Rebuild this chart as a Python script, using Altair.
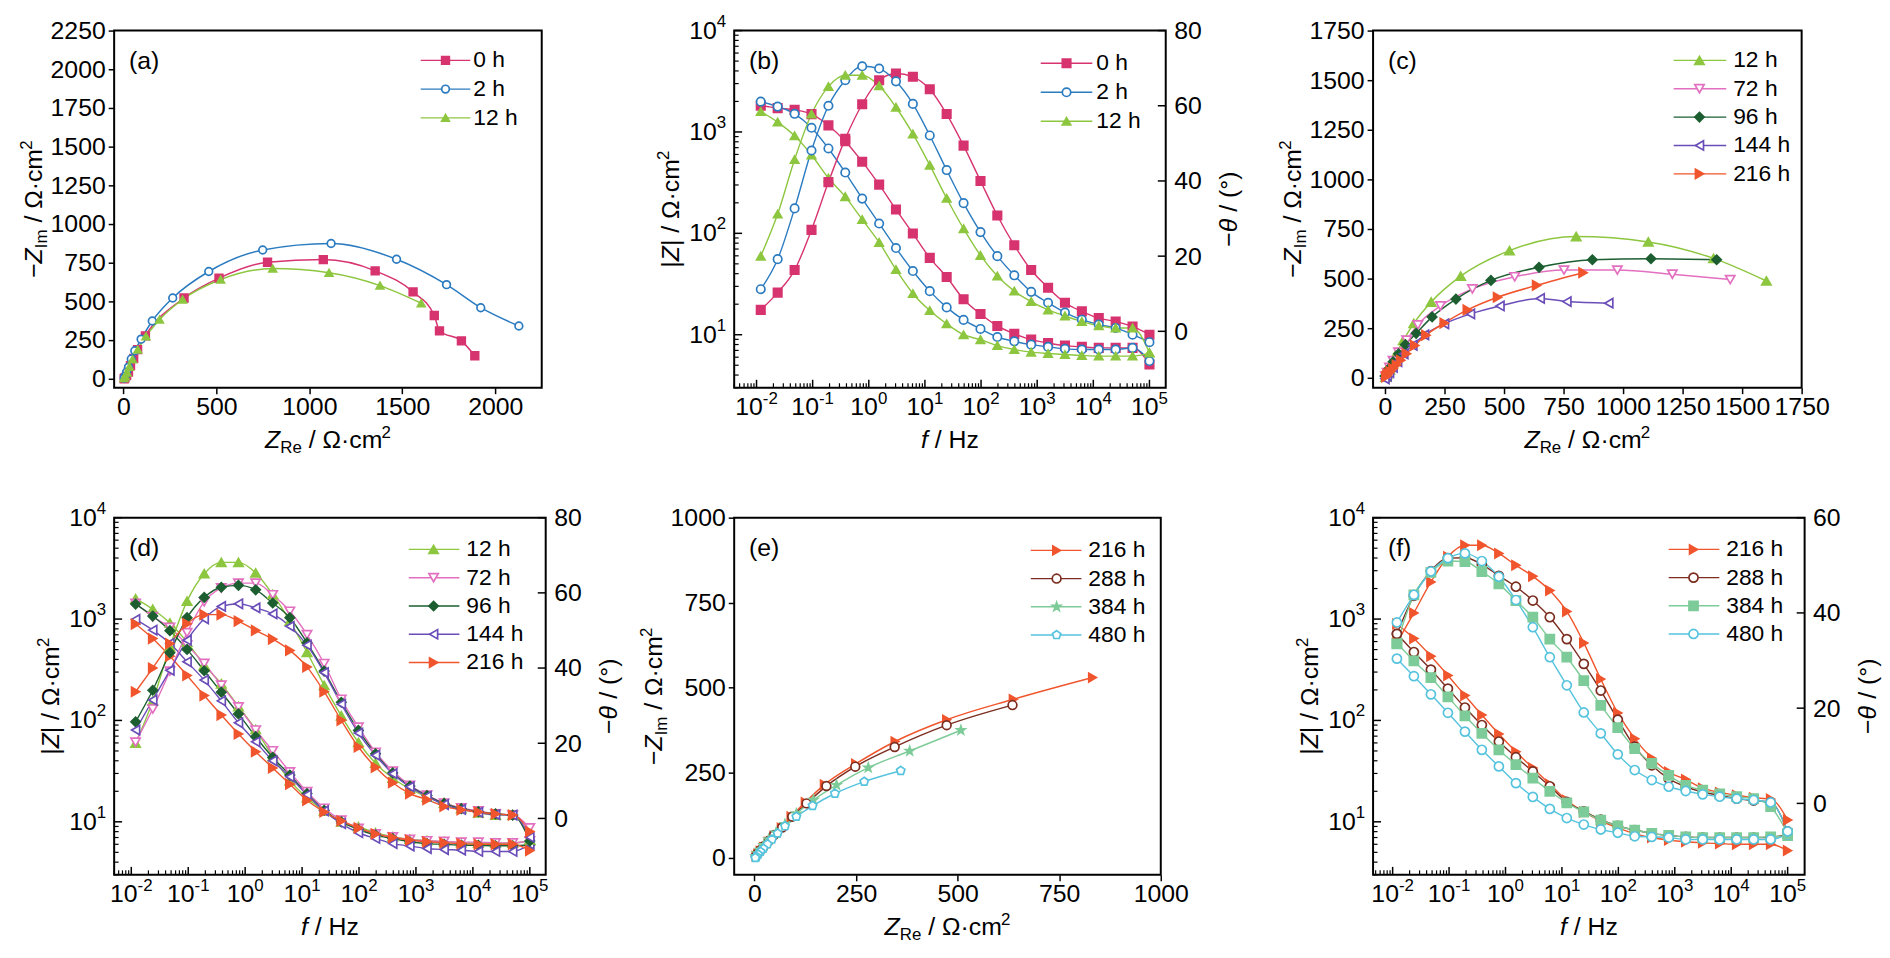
import altair as alt
import pandas as pd

FONT = "Liberation Sans"

# ---------------- data ----------------
FREQ = [0.0119, 0.0238, 0.0477, 0.0954, 0.191, 0.381, 0.763, 1.53, 3.05, 6.10,
        12.2, 24.4, 48.8, 97.7, 195.0, 391.0, 781.0, 1563.0, 3125.0, 6250.0,
        12500.0, 25000.0, 50000.0, 100000.0]

# Bode (b)
MAG_0H = [1820, 1720, 1650, 1500, 1160, 811, 509, 302, 172, 99.5, 57.3, 37.1, 22.4, 16.0,
          12.2, 10.2, 8.94, 8.29, 7.81, 7.58, 7.41, 7.41, 7.41, 5.09]
PH_0H = [5.7, 10.3, 16.3, 27.0, 39.7, 51.2, 60.4, 66.8, 68.6, 67.7, 64.4, 57.8, 49.4, 40.0,
         30.8, 22.9, 16.3, 11.6, 7.6, 5.3, 3.5, 2.6, 1.3, -0.9]
MAG_2H = [1990, 1780, 1510, 1100, 687, 398, 220, 125, 71.6, 42.5, 26.9, 18.6, 14.0, 11.4,
          9.49, 8.61, 7.98, 7.58, 7.25, 7.14, 7.14, 7.14, 7.41, 5.50]
PH_2H = [11.2, 19.2, 32.7, 48.1, 60.0, 66.8, 70.5, 69.9, 66.5, 60.5, 52.1, 42.9, 34.1, 26.4,
         20.0, 14.9, 10.5, 7.6, 5.0, 3.1, 1.8, 0.9, -0.9, -2.9]
MAG_12H = [1590, 1250, 915, 592, 351, 230, 137, 81.4, 44.0, 25.5, 17.3, 12.8, 10.0, 8.94,
           7.81, 7.14, 6.73, 6.53, 6.38, 6.24, 6.15, 6.15, 6.15, 6.62]
PH_12H = [20.0, 31.2, 45.7, 57.8, 65.1, 68.1, 68.1, 65.3, 59.6, 52.5, 44.2, 35.4, 27.3, 20.2,
          14.7, 10.7, 7.9, 5.7, 4.1, 2.6, 1.5, 0.9, 0.9, -5.7]
# Bode (d)
MAG_72H = [1430, 1054, 828, 553, 365, 223, 136, 80.4, 50.2, 31.1, 19.8, 13.6, 10.4, 8.6,
           7.6, 7.1, 6.7, 6.5, 6.4, 6.3, 6.3, 6.2, 6.2, 6.5]
PH_72H = [20.3, 29.1, 39.2, 49.4, 57.6, 61.3, 62.6, 62.6, 59.5, 55.1, 48.9, 41.2, 31.7, 24.3,
          17.6, 12.6, 8.8, 6.2, 4.1, 2.8, 2.0, 1.2, 0.9, -2.5]
MAG_96H = [1406, 1071, 768, 502, 309, 190, 116, 69.1, 43.2, 28.9, 19.0, 13.0, 10.0, 8.4,
           7.4, 6.85, 6.36, 6.1, 6.0, 5.9, 5.85, 5.8, 5.8, 5.9]
PH_96H = [25.7, 34.1, 44.1, 53.4, 58.8, 61.5, 62.0, 60.8, 57.3, 53.4, 46.7, 39.2, 30.9, 23.4,
          17.2, 12.1, 8.6, 6.1, 4.0, 2.6, 1.8, 1.2, 0.9, -6.0]
MAG_144H = [993, 778, 576, 379, 250, 156, 94.8, 61.6, 40.0, 27.8, 18.5, 12.8, 9.6, 7.8,
            6.85, 6.1, 5.76, 5.45, 5.33, 5.25, 5.1, 5.1, 5.1, 6.0]
PH_144H = [23.5, 31.5, 39.4, 47.4, 53.1, 56.4, 57.1, 56.0, 54.4, 51.1, 46.1, 38.8, 30.4, 22.7,
           16.8, 11.9, 8.4, 5.9, 3.7, 2.4, 1.6, 1.0, 0.9, -5.0]
MAG_216H = [893, 642, 430, 278, 176, 113, 73.5, 49.2, 34.0, 23.5, 16.3, 12.5, 10.2, 8.7,
            7.6, 7.0, 6.6, 6.35, 6.2, 6.1, 6.0, 6.0, 6.0, 5.2]
PH_216H = [33.7, 40.0, 46.5, 51.8, 54.2, 54.2, 52.5, 50.0, 47.7, 44.7, 40.3, 33.7, 26.1, 19.0,
           13.6, 9.5, 6.6, 5.0, 3.2, 2.3, 1.7, 1.2, 0.9, -3.5]
# Bode (f)
MAG_288H = [716, 473, 317, 206, 134, 90.1, 61.9, 43.4, 31.4, 22.4, 15.7, 12.7, 10.5, 9.1,
            8.3, 7.7, 7.35, 7.1, 7.0, 7.0, 7.0, 7.0, 7.0, 7.6]
PH_288H = [35.6, 43.6, 48.8, 51.5, 51.6, 50.2, 47.8, 45.5, 42.6, 39.1, 34.5, 29.3, 23.7, 17.6,
           11.9, 8.0, 5.2, 3.5, 2.4, 1.7, 1.0, 0.6, 0.2, -5.9]
MAG_384H = [580, 386, 265, 171, 111, 74.6, 51.3, 36.6, 27.0, 20.0, 15.4, 12.5, 10.4, 9.1,
            8.3, 7.7, 7.35, 7.1, 7.0, 7.0, 7.0, 7.0, 7.1, 7.3]
PH_384H = [33.5, 43.8, 48.5, 50.9, 50.8, 48.7, 46.1, 42.6, 39.1, 34.5, 30.7, 25.8, 20.6, 15.9,
           11.5, 8.4, 5.9, 3.8, 2.8, 2.0, 1.4, 1.0, -0.7, -6.3]
MAG_480H = [407, 273, 181, 119, 77.6, 51.3, 35.2, 24.1, 17.6, 13.4, 10.9, 9.4, 8.4, 7.8,
            7.2, 7.1, 7.0, 6.7, 6.7, 6.7, 6.7, 6.7, 6.7, 7.5]
PH_480H = [38.0, 43.8, 48.7, 51.5, 52.5, 50.9, 47.6, 42.7, 37.0, 30.7, 24.8, 19.1, 14.7, 10.3,
           7.0, 4.9, 3.5, 2.6, 1.9, 1.4, 1.0, 0.7, 0.2, -5.9]

# Nyquist (a)
A_0H_X = [1890, 1818, 1700, 1672, 1558, 1354, 1075, 775, 514, 326, 118, 76, 55, 38, 27, 17, 8, 4]
A_0H_Y = [149, 245, 309, 409, 561, 697, 770, 753, 650, 522, 277, 188, 132, 85, 43, 21, 6, 0]
A_2H_X = [2127, 1922, 1738, 1469, 1117, 749, 459, 265, 155, 95, 61, 42, 27, 17, 9, 4]
A_2H_Y = [341, 459, 608, 772, 874, 832, 693, 522, 373, 256, 181, 128, 75, 43, 17, 4]
N_12H_X = [1602, 1380, 1106, 803, 523, 318, 194, 121, 77, 49, 32, 20, 9, 3]
N_12H_Y = [488, 602, 685, 712, 641, 512, 382, 274, 188, 125, 77, 40, 17, 4]
# Nyquist (c)
C_72H_X = [1450, 1207, 976, 752, 545, 367, 233, 138, 91, 57, 34, 19, 9, 2]
C_72H_Y = [495, 522, 543, 543, 509, 448, 362, 267, 190, 129, 86, 52, 26, 9]
C_96H_X = [1393, 1117, 871, 647, 445, 298, 198, 131, 86, 57, 34, 17, 7, 0]
C_96H_Y = [595, 600, 595, 557, 491, 397, 307, 224, 167, 121, 81, 47, 22, 9]
C_144H_X = [940, 764, 652, 483, 359, 250, 166, 117, 79, 53, 34, 19, 9, 0]
C_144H_Y = [376, 384, 400, 362, 322, 272, 216, 164, 121, 81, 52, 26, 9, -5]
N_216H_X = [832, 637, 473, 346, 249, 172, 125, 90, 66, 48, 34, 22, 14, 8, 4]
N_216H_Y = [530, 466, 406, 342, 276, 215, 163, 121, 88, 64, 46, 31, 20, 11, 5]
# Nyquist (e)
E_288H_X = [635, 473, 345, 248, 177, 128, 93, 68, 48, 35, 23, 15, 8, 3]
E_288H_Y = [449, 390, 326, 268, 211, 160, 121, 89, 67, 50, 34, 23, 13, 5]
E_384H_X = [508, 382, 280, 202, 145, 103, 75, 53, 35, 23, 13, 7, 3]
E_384H_Y = [375, 314, 265, 214, 170, 130, 99, 74, 54, 37, 23, 13, 5]
E_480H_X = [360, 270, 198, 143, 103, 75, 57, 43, 32, 22, 15, 9, 5, 2]
E_480H_Y = [256, 224, 189, 153, 121, 93, 72, 54, 40, 27, 18, 10, 3, 0]

X_EXP = ["-2", "-1", "0", "1", "2", "3", "4", "5"]
X_DEC = [0.01, 0.1, 1.0, 10.0, 100.0, 1000.0, 10000.0, 100000.0]
Y_EXP = ["1", "2", "3", "4"]
Y_DEC = [10.0, 100.0, 1000.0, 10000.0]

# ---------------- styles ----------------
COLORS = {"0 h": "#D6336F", "2 h": "#2B7BC0", "12 h": "#8DC63F", "72 h": "#E36FC0",
          "96 h": "#1D5E31", "144 h": "#6A4DB8", "216 h": "#F0552D", "288 h": "#7B2D1F",
          "384 h": "#7DCB98", "480 h": "#55C3DD"}
STAR = ("M0,-1L0.235,-0.324L0.951,-0.309L0.38,0.124L0.588,0.809L0,0.4L-0.588,0.809"
        "L-0.38,0.124L-0.951,-0.309L-0.235,-0.324Z")
PENTA = "M0,-1L0.951,-0.309L0.588,0.809L-0.588,0.809L-0.951,-0.309Z"
SHAPES = {"0 h": "square", "2 h": "circle", "12 h": "triangle-up", "72 h": "triangle-down",
          "96 h": "diamond", "144 h": "triangle-left", "216 h": "triangle-right",
          "288 h": "circle", "384 h": "square", "480 h": "circle"}
HOLLOW = {"2 h", "72 h", "144 h", "288 h", "480 h"}

LAB = 25      # tick label font size
SUP = 17      # exponent font size
TIT = 25      # title font size
LEG = 23      # legend font size

ONE = pd.DataFrame({"k": [0]})

W_EM = {' ': 0.278, '/': 0.278, 'Ω': 0.768, '·': 0.278, 'c': 0.5, 'm': 0.833, 'e': 0.556,
        'R': 0.722, 'I': 0.278, 'Z': 0.611, '|': 0.26, 'f': 0.278, 'H': 0.722, 'z': 0.5,
        '−': 0.584, 'θ': 0.556, '(': 0.333, ')': 0.333, '°': 0.4, 'h': 0.556, '-': 0.333}


def tw(s, size):
    return sum(W_EM.get(ch, 0.556) for ch in s) * size


def txt(text, x, y, size=TIT, italic=False, align="left", baseline="alphabetic",
        dx=0.0, dy=0.0, angle=0):
    props = dict(text=text, font=FONT, fontSize=size, color="black", align=align,
                 baseline=baseline)
    if italic:
        props["fontStyle"] = "italic"
    if dx:
        props["dx"] = dx
    if dy:
        props["dy"] = dy
    if angle:
        props["angle"] = angle
    return alt.Chart(ONE).mark_text(**props).encode(x=alt.value(x), y=alt.value(y))


def title(pieces, x, y, angle=0):
    total = sum(tw(t, s) for t, s, _, _ in pieces)
    pos = -total / 2.0
    out = []
    for t, s, it, dy in pieces:
        lead = len(t) - len(t.lstrip(' '))
        out.append(txt(t.strip(' '), x, y, size=s, italic=it,
                       dx=pos + tw(' ' * lead, s) + 0.001, dy=dy, angle=angle))
        pos += tw(t, s)
    return out


T_ZRE = [("Z", TIT, True, 0), ("Re", 17, False, 5), (" / Ω·cm", TIT, False, 0), ("2", 17, False, -10)]
T_ZIM = [("−", TIT, False, 0), ("Z", TIT, True, 0), ("Im", 17, False, 5),
         (" / Ω·cm", TIT, False, 0), ("2", 17, False, -10)]
T_ZMOD = [("|", TIT, False, 0), ("Z", TIT, True, 0), ("| / Ω·cm", TIT, False, 0), ("2", 17, False, -10)]
T_F = [("f", TIT, True, 0), (" / Hz", TIT, False, 0)]
T_TH = [("−", TIT, False, 0), ("θ", TIT, True, 0), (" / (°)", TIT, False, 0)]


def style_scales(names, override=None):
    override = override or {}
    shp = [override.get(n, SHAPES[n]) for n in names]
    cols = [COLORS[n] for n in names]
    fills = ["white" if n in HOLLOW else COLORS[n] for n in names]
    color = alt.Color("s:N", scale=alt.Scale(domain=names, range=cols), legend=None)
    stroke = alt.Stroke("s:N", scale=alt.Scale(domain=names, range=cols), legend=None)
    fill = alt.Fill("s:N", scale=alt.Scale(domain=names, range=fills), legend=None)
    shape = alt.Shape("s:N", scale=alt.Scale(domain=names, range=shp), legend=None)
    return color, stroke, fill, shape


def legend_layers(names, enc, leg, msize):
    lx0, lx1, mx, tx, y0, dy = leg
    color, stroke, fill, shape = enc
    df = pd.DataFrame({"s": names, "ly": [y0 + i * dy for i in range(len(names))]})
    Yl = alt.Y("ly:Q", scale=None, axis=None)
    base = alt.Chart(df)
    r = base.mark_rule(strokeWidth=1.4).encode(x=alt.value(lx0), x2=alt.value(lx1), y=Yl, color=color)
    p = base.mark_point(filled=True, opacity=1, strokeWidth=1.7, size=msize).encode(
        x=alt.value(mx), y=Yl, stroke=stroke, fill=fill, shape=shape)
    t = base.mark_text(font=FONT, fontSize=LEG, align="left", baseline="middle",
                       color="black").encode(x=alt.value(tx), y=Yl, text="s:N")
    return [r, p, t]


def nyquist_panel(label, names, xs, ys, W, H, xdom, ydom, xticks, yticks, msize, leg,
                  override=None):
    rows = []
    for n in names:
        for a, b in zip(xs[n], ys[n]):
            rows.append({"s": n, "x": a, "y": b})
    df = pd.DataFrame(rows)
    enc = style_scales(names, override)
    color, stroke, fill, shape = enc
    xsc = alt.Scale(domain=xdom, nice=False, zero=False)
    ysc = alt.Scale(domain=ydom, nice=False, zero=False)
    axc = dict(ticks=True, tickSize=6, tickWidth=1.5, tickColor="black", domain=False,
               grid=False, labelFont=FONT, labelFontSize=LAB, labelColor="black",
               labelOverlap=False, labelFlush=False, format="d", title=None)
    X = alt.X("x:Q", scale=xsc, axis=alt.Axis(values=xticks, labelPadding=1, **axc))
    Y = alt.Y("y:Q", scale=ysc, axis=alt.Axis(values=yticks, labelPadding=3, **axc))
    lines = alt.Chart(df).mark_line(interpolate="monotone", strokeWidth=1.5).encode(
        x=X, y=Y, color=color, detail="s:N")
    pts = alt.Chart(df).mark_point(filled=True, opacity=1, strokeWidth=1.7, size=msize).encode(
        x=alt.X("x:Q", scale=xsc, axis=None), y=alt.Y("y:Q", scale=ysc, axis=None),
        stroke=stroke, fill=fill, shape=shape)
    layers = [lines, pts]
    layers += legend_layers(names, enc, leg, msize)
    layers += title(T_ZRE, W / 2.0, H + 61)
    layers += title(T_ZIM, -73, H / 2.0, angle=270)
    layers.append(txt(label, 15, 31, baseline="middle"))
    return alt.layer(*layers).resolve_scale(x="independent", y="independent").properties(
        width=W, height=H)


def bode_panel(label, names, mags, phs, W, H, xdom, phdom, phticks, msize, leg):
    rows = []
    for n in names:
        for f, m, p in zip(FREQ, mags[n], phs[n]):
            rows.append({"s": n, "f": f, "mag": m, "ph": p})
    df = pd.DataFrame(rows)
    enc = style_scales(names)
    color, stroke, fill, shape = enc
    xsc = alt.Scale(type="log", domain=xdom, nice=False)
    msc = alt.Scale(type="log", domain=[3, 10000], nice=False)
    psc = alt.Scale(domain=phdom, nice=False, zero=False)
    Xf = alt.X("f:Q", scale=xsc, axis=None)
    Ym = alt.Y("mag:Q", scale=msc, axis=None)
    Yp_ax = alt.Y("ph:Q", scale=psc, axis=alt.Axis(
        orient="right", values=phticks, ticks=False, tickSize=0, domain=False, grid=False,
        labelFont=FONT, labelFontSize=LAB, labelColor="black", labelPadding=8,
        labelOverlap=False, labelFlush=False, format="d", title=None))
    Yp = alt.Y("ph:Q", scale=psc, axis=None)
    base = alt.Chart(df)
    l_mag = base.mark_line(interpolate="monotone", strokeWidth=1.4).encode(
        x=Xf, y=Ym, color=color, detail="s:N")
    l_ph = base.mark_line(interpolate="monotone", strokeWidth=1.4).encode(
        x=Xf, y=Yp_ax, color=color, detail="s:N")
    p_mag = base.mark_point(filled=True, opacity=1, strokeWidth=1.7, size=msize).encode(
        x=Xf, y=Ym, stroke=stroke, fill=fill, shape=shape)
    p_ph = base.mark_point(filled=True, opacity=1, strokeWidth=1.7, size=msize).encode(
        x=Xf, y=Yp, stroke=stroke, fill=fill, shape=shape)
    layers = [l_mag, l_ph, p_mag, p_ph]

    xmaj = pd.DataFrame({"v": X_DEC, "e": X_EXP})
    xmin = pd.DataFrame({"v": [m * 10.0 ** d for d in range(-3, 5) for m in range(2, 10)
                               if xdom[0] <= m * 10.0 ** d <= xdom[1]]})
    ymaj = pd.DataFrame({"v": Y_DEC, "e": Y_EXP})
    ymin = pd.DataFrame({"v": [m * 10.0 ** d for d in range(0, 4) for m in range(2, 10)
                               if m * 10.0 ** d >= 3]})
    pt = pd.DataFrame({"v": phticks})
    Xv = alt.X("v:Q", scale=xsc, axis=None)
    Ymv = alt.Y("v:Q", scale=msc, axis=None)
    Ypv = alt.Y("v:Q", scale=psc, axis=None)
    layers.append(alt.Chart(xmaj).mark_rule(color="black", strokeWidth=1.5).encode(
        x=Xv, y=alt.value(H), y2=alt.value(H - 8)))
    layers.append(alt.Chart(xmin).mark_rule(color="black", strokeWidth=1.2).encode(
        x=Xv, y=alt.value(H), y2=alt.value(H - 4.5)))
    layers.append(alt.Chart(ymaj).mark_rule(color="black", strokeWidth=1.5).encode(
        y=Ymv, x=alt.value(0), x2=alt.value(8)))
    layers.append(alt.Chart(ymin).mark_rule(color="black", strokeWidth=1.2).encode(
        y=Ymv, x=alt.value(0), x2=alt.value(4.5)))
    layers.append(alt.Chart(pt).mark_rule(color="black", strokeWidth=1.5).encode(
        y=Ypv, x=alt.value(W), x2=alt.value(W - 8)))

    base_w = tw("10", LAB)
    neg_w = tw("-2", SUP)
    pos_w = tw("2", SUP)
    neg = xmaj[xmaj["v"] < 1]
    pos = xmaj[xmaj["v"] >= 1]
    for sub, sw in [(neg, neg_w), (pos, pos_w)]:
        tot = base_w + sw
        layers.append(alt.Chart(sub).mark_text(
            text="10", font=FONT, fontSize=LAB, align="left", baseline="alphabetic",
            dx=-tot / 2.0, color="black").encode(x=Xv, y=alt.value(H + 27)))
        layers.append(alt.Chart(sub).mark_text(
            font=FONT, fontSize=SUP, align="left", baseline="alphabetic",
            dx=-tot / 2.0 + base_w, color="black").encode(x=Xv, y=alt.value(H + 16), text="e:N"))
    layers.append(alt.Chart(ymaj).mark_text(
        text="10", font=FONT, fontSize=LAB, align="right", baseline="middle",
        dx=-(8 + pos_w), color="black").encode(x=alt.value(0), y=Ymv))
    layers.append(alt.Chart(ymaj).mark_text(
        font=FONT, fontSize=SUP, align="left", baseline="middle", dx=-(8 + pos_w), dy=-9,
        color="black").encode(x=alt.value(0), y=Ymv, text="e:N"))

    layers += legend_layers(names, enc, leg, msize)
    layers += title(T_F, W / 2.0, H + 61)
    layers += title(T_ZMOD, -56, H / 2.0, angle=270)
    layers += title(T_TH, W + 72, H / 2.0, angle=270)
    layers.append(txt(label, 15, 31, baseline="middle"))
    return alt.layer(*layers).resolve_scale(x="independent", y="independent").properties(
        width=W, height=H)


def spacer(w, h, anchor=False):
    layers = [alt.Chart(ONE).mark_point(opacity=0, size=1).encode(
        x=alt.value(w / 2.0), y=alt.value(h / 2.0))]
    if anchor:
        layers.append(alt.Chart(ONE).mark_point(filled=True, color="white", opacity=1,
                                                size=4).encode(x=alt.value(1), y=alt.value(-16)))
    return alt.layer(*layers).properties(width=w, height=h,
                                         view=alt.ViewBackground(stroke="transparent"))


H = 360

pa = nyquist_panel("(a)", ["0 h", "2 h", "12 h"],
                   {"0 h": A_0H_X, "2 h": A_2H_X, "12 h": N_12H_X},
                   {"0 h": A_0H_Y, "2 h": A_2H_Y, "12 h": N_12H_Y},
                   431, H, [-50, 2250], [-58, 2250], [0, 500, 1000, 1500, 2000],
                   list(range(0, 2251, 250)), 60, (309, 359, 334, 362, 30, 29))

pb = bode_panel("(b)", ["0 h", "2 h", "12 h"],
                {"0 h": MAG_0H, "2 h": MAG_2H, "12 h": MAG_12H},
                {"0 h": PH_0H, "2 h": PH_2H, "12 h": PH_12H},
                435, H, [0.004, 195000], [-15, 80], [0, 20, 40, 60, 80], 72,
                (309, 361, 335, 365, 33, 29.2))

pc = nyquist_panel("(c)", ["12 h", "72 h", "96 h", "144 h", "216 h"],
                   {"12 h": N_12H_X, "72 h": C_72H_X, "96 h": C_96H_X, "144 h": C_144H_X,
                    "216 h": N_216H_X},
                   {"12 h": N_12H_Y, "72 h": C_72H_Y, "96 h": C_96H_Y, "144 h": C_144H_Y,
                    "216 h": N_216H_Y},
                   432, H, [-50, 1750], [-50, 1750], list(range(0, 1751, 250)),
                   list(range(0, 1751, 250)), 88, (303, 356, 329, 363, 30, 28.6))

pd_ = bode_panel("(d)", ["12 h", "72 h", "96 h", "144 h", "216 h"],
                 {"12 h": MAG_12H, "72 h": MAG_72H, "96 h": MAG_96H, "144 h": MAG_144H,
                  "216 h": MAG_216H},
                 {"12 h": PH_12H, "72 h": PH_72H, "96 h": PH_96H, "144 h": PH_144H,
                  "216 h": PH_216H},
                 435, H, [0.005, 190000], [-15, 80], [0, 20, 40, 60, 80], 88,
                 (297, 348, 322, 355, 32, 28.5))

pe = nyquist_panel("(e)", ["216 h", "288 h", "384 h", "480 h"],
                   {"216 h": N_216H_X, "288 h": E_288H_X, "384 h": E_384H_X, "480 h": E_480H_X},
                   {"216 h": N_216H_Y, "288 h": E_288H_Y, "384 h": E_384H_Y, "480 h": E_480H_Y},
                   430, H, [-50, 1000], [-50, 1000], [0, 250, 500, 750, 1000],
                   [0, 250, 500, 750, 1000], 78, (299, 350, 325, 357, 33, 28.4),
                   override={"384 h": STAR, "480 h": PENTA})

pf = bode_panel("(f)", ["216 h", "288 h", "384 h", "480 h"],
                {"216 h": MAG_216H, "288 h": MAG_288H, "384 h": MAG_384H, "480 h": MAG_480H},
                {"216 h": PH_216H, "288 h": PH_288H, "384 h": PH_384H, "480 h": PH_480H},
                435, H, [0.0045, 200000], [-15, 60], [0, 20, 40, 60], 84,
                (298, 349, 323, 356, 32, 28.4))

cells = [spacer(106, H, anchor=True), pa, spacer(188, H), pb, spacer(206, H), pc,
         spacer(102, H), pd_, spacer(190, H), pe, spacer(209, H), pf]

chart = alt.concat(*cells, columns=6, align="none", bounds="flush",
                   spacing={"row": 131, "column": 0})
chart = chart.resolve_scale(color="independent", stroke="independent", fill="independent",
                            shape="independent")
chart = chart.properties(padding=0, background="white").configure_view(
    stroke="black", strokeWidth=2)

chart.save("out.html", embed_options={"renderer": "svg", "actions": False})
